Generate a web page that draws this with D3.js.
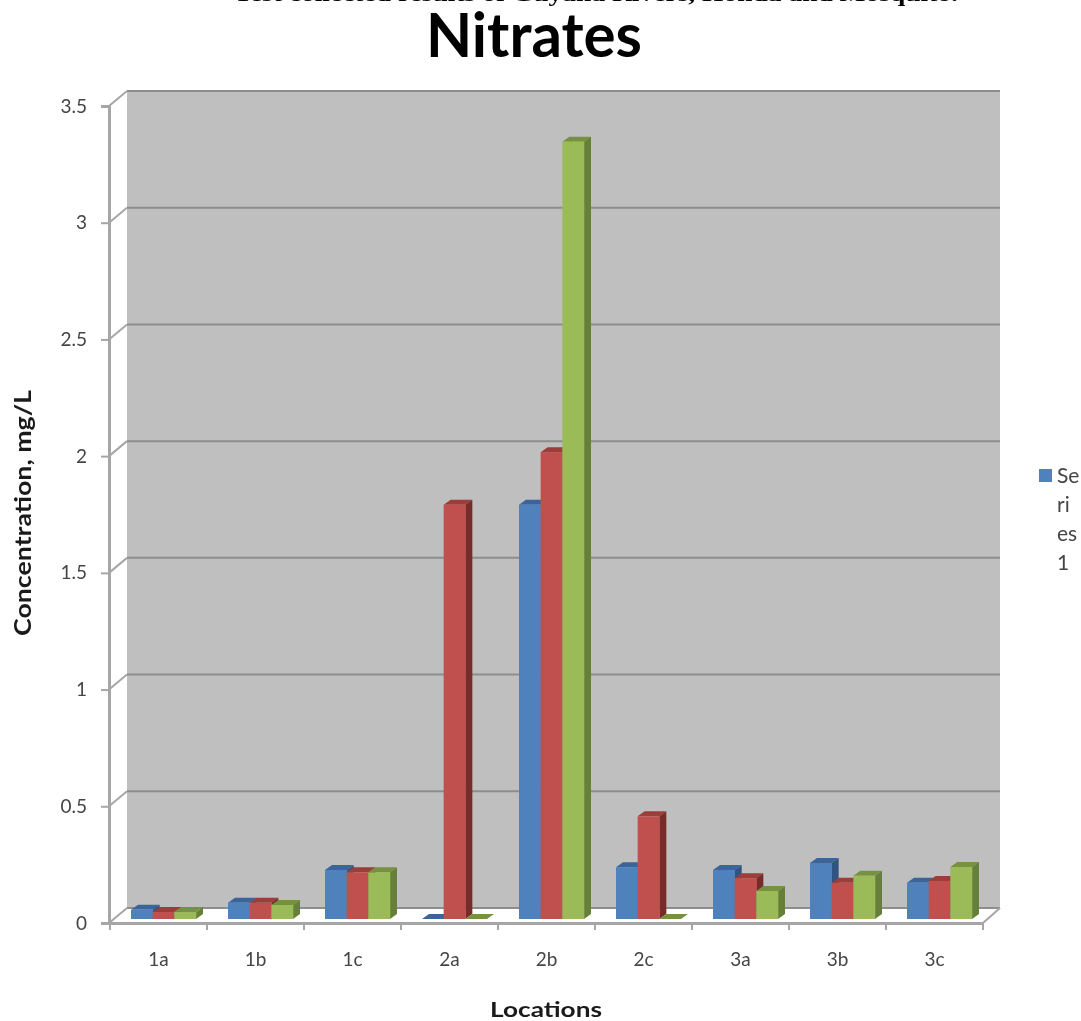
<!DOCTYPE html>
<html>
<head>
<meta charset="utf-8">
<script src="https://cdn.jsdelivr.net/npm/d3@7"></script>
<style>
html,body{margin:0;padding:0;background:#fff;overflow:hidden}
svg{display:block;filter:blur(0.7px)}
</style>
</head>
<body>
<script>
const categories = ["1a","1b","1c","2a","2b","2c","3a","3b","3c"];
const seriesA = [0.04,0.07,0.21,0,1.775,0.222,0.21,0.24,0.155];
const seriesB = [0.03,0.07,0.20,1.775,2.0,0.44,0.175,0.155,0.163];
const seriesC = [0.03,0.06,0.20,0,3.33,0,0.12,0.185,0.223];
const seriesValues = [seriesA,seriesB,seriesC];
const yTicks = [0,0.5,1,1.5,2,2.5,3,3.5];
const titleText = "Nitrates";
const clippedCaption = "Test collected results of Guyana Rivers, Honda and Mosquito.";
const xTitle = "Locations";
const yTitle = "Concentration, mg/L";
const legendLines = ["Se","ri","es","1"];
const fronts = ["#4f81bd","#c0504d","#9bbb59"];
const tops = ["#3b659a","#9b3d3a","#76913f"];
const sides = ["#2f5482","#772c2a","#66803a"];

const W=1081,H=1021;
const svg=d3.select("body").append("svg").attr("width",W).attr("height",H).attr("viewBox",[0,0,W,H]);
const x=d3.scaleBand().domain(categories).range([110,983]);
const y=d3.scaleLinear().domain([0,3.5]).range([923,106]);
const inner=d3.scaleBand().domain([0,1,2]).range([21,86]);
const DX=18,DY=-15,BX=7,BY=-5,LIFT=4;
const font="Lato, Carlito, 'Open Sans', sans-serif";

// back wall and floor
svg.append("rect").attr("x",x.range()[0]+DX-1).attr("y",y(3.5)+DY).attr("width",x.range()[1]-x.range()[0]).attr("height",y(0)-y(3.5))
  .attr("fill","#bfbfbf");
const gridColor="#8d8d8d";
svg.append("g").selectAll("line").data(yTicks).join("line")
  .attr("x1",x.range()[0]+DX-1).attr("x2",x.range()[1]+DX-1)
  .attr("y1",d=>y(d)+DY).attr("y2",d=>y(d)+DY)
  .attr("stroke",gridColor).attr("stroke-width",2);
svg.append("g").selectAll("line").data(yTicks).join("line")
  .attr("x1",x.range()[0]-1).attr("x2",x.range()[0]+DX-1)
  .attr("y1",d=>y(d)).attr("y2",d=>y(d)+DY)
  .attr("stroke","#a6a6a6").attr("stroke-width",2);
svg.append("line").attr("x1",x.range()[1]).attr("x2",x.range()[1]+DX-1)
  .attr("y1",y(0)).attr("y2",y(0)+DY).attr("stroke","#a6a6a6").attr("stroke-width",2);

// bars
const flat=[];
categories.forEach((c,i)=>seriesValues.forEach((s,k)=>flat.push({c,k,v:s[i]})));
const bw=inner.bandwidth();
const g=svg.append("g");
const bar=g.selectAll("g").data(flat).join("g")
  .attr("transform",d=>`translate(${x(d.c)+inner(d.k)},${y(d.v)-LIFT})`);
bar.append("path").attr("fill",d=>tops[d.k])
  .attr("d",`M0,0L${BX},${BY}L${bw+BX},${BY}L${bw},0Z`);
bar.append("path").attr("fill",d=>sides[d.k])
  .attr("d",d=>{const h=y(0)-y(d.v);return `M${bw},0L${bw+BX},${BY}L${bw+BX},${h+BY}L${bw},${h}Z`;});
bar.append("rect").attr("width",bw+0.3).attr("height",d=>y(0)-y(d.v)).attr("fill",d=>fronts[d.k]);

// axes
const axisColor="#a6a6a6", labelColor="#454545";
const yAxis=svg.append("g").attr("transform",`translate(${x.range()[0]-1},0)`)
  .call(d3.axisLeft(y).tickValues(yTicks).tickFormat(d3.format("~g")).tickSize(8).tickPadding(14));
const bandEdges=d3.range(categories.length+1).map(i=>x.range()[0]+i*x.step());
const xAxis=svg.append("g").attr("transform",`translate(0,${y(0)})`)
  .call(d3.axisBottom(x).tickSize(0).tickPadding(30));
xAxis.append("g").selectAll("line").data(bandEdges).join("line")
  .attr("x1",d=>d).attr("x2",d=>d).attr("y1",0).attr("y2",7)
  .attr("stroke",axisColor).attr("stroke-width",2);
[yAxis,xAxis].forEach(a=>{
  a.select(".domain").attr("stroke",axisColor).attr("stroke-width",3);
  a.selectAll(".tick line").attr("stroke",axisColor).attr("stroke-width",2);
  a.selectAll("text").attr("fill",labelColor).attr("font-family",font).attr("font-size",19);
});

// titles
svg.append("text").attr("x",534).attr("y",57).attr("text-anchor","middle")
  .attr("font-family",font).attr("font-weight",700).attr("font-size",61)
  .attr("textLength",216).attr("lengthAdjust","spacingAndGlyphs").attr("fill","#000").text(titleText);
svg.append("text").attr("x",596).attr("y",1).attr("text-anchor","middle")
  .attr("font-family","'Liberation Serif', serif").attr("font-weight",700).attr("font-size",20)
  .attr("textLength",724).attr("lengthAdjust","spacingAndGlyphs").attr("fill","#000").text(clippedCaption);
svg.append("text").attr("x",546).attr("y",1017).attr("text-anchor","middle")
  .attr("font-family",font).attr("font-weight",700).attr("font-size",21)
  .attr("textLength",112).attr("lengthAdjust","spacingAndGlyphs").attr("fill","#1a1a1a").text(xTitle);
svg.append("text").attr("transform","translate(31,513) rotate(-90)").attr("text-anchor","middle")
  .attr("font-family",font).attr("font-weight",700).attr("font-size",22)
  .attr("textLength",246).attr("lengthAdjust","spacingAndGlyphs").attr("fill","#1a1a1a").text(yTitle);

// legend
svg.append("rect").attr("x",1039).attr("y",469).attr("width",13).attr("height",13).attr("fill",fronts[0]);
svg.append("g").selectAll("text").data(legendLines).join("text")
  .attr("x",1057).attr("y",(d,i)=>483+i*29)
  .attr("font-family",font).attr("font-size",21).attr("fill",labelColor).text(d=>d);
</script>
</body>
</html>
